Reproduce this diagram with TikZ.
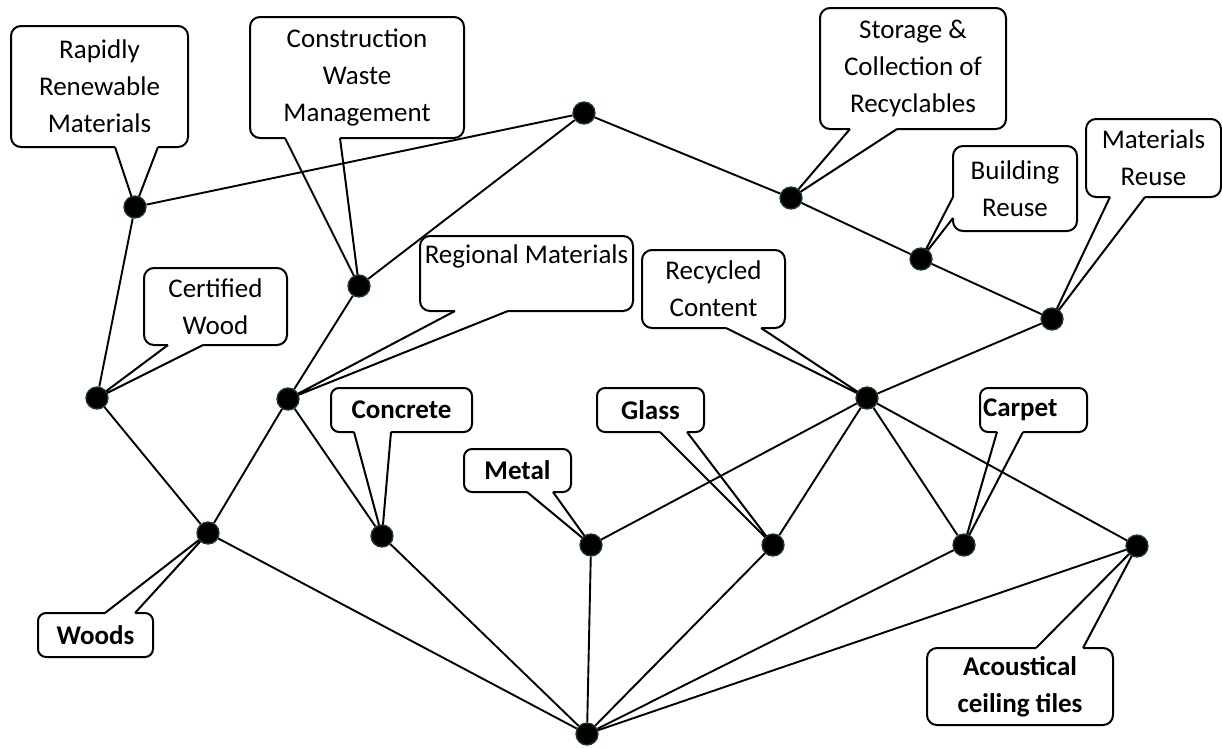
\documentclass[tikz,border=0pt]{standalone}
\usepackage{fontspec}
\setmainfont{Carlito}
\usetikzlibrary{calc}
\pgfdeclarelayer{bg}
\pgfsetlayers{bg,main}
\definecolor{dotgreen}{RGB}{25,65,25}
\newcommand\ptr[6]{%
  \coordinate (#6a) at (#1);
  \coordinate (#6b) at (#2);
  \fill[white] ($(#6a)+(#4,#5)$) -- ($(#6a)-(#4,#5)$) -- (#3.center) -- ($(#6b)-(#4,#5)$) -- ($(#6b)+(#4,#5)$) -- cycle;
  \draw[pline] (#6a) -- (#3.center) -- (#6b);}
\begin{document}
\begin{tikzpicture}[x=1pt,y=-1pt,
  cbox/.style={draw, line width=2pt, rounded corners=10pt, fill=white, inner sep=0pt, align=center, font=\fontsize{27}{37}\selectfont},
  bbox/.style={cbox, rounded corners=8pt, font=\fontsize{27}{37}\selectfont\bfseries},
  dot/.style={circle, fill=black, draw=dotgreen, line width=1.3pt, minimum size=22pt, inner sep=0pt},
  edge/.style={line width=1.9pt},
  pline/.style={line width=2pt, line join=round}]
\useasboundingbox (0,0) rectangle (1222,747);
% dots
\node[dot] (top) at (584,113) {};
\node[dot] (drrm) at (135,207) {};
\node[dot] (dcwm) at (359,286) {};
\node[dot] (dscr) at (791,198) {};
\node[dot] (dbr) at (921,259) {};
\node[dot] (dmr) at (1052,319) {};
\node[dot] (dcw) at (97,398) {};
\node[dot] (drm) at (288,399) {};
\node[dot] (drc) at (867,398) {};
\node[dot] (dwood) at (208,533) {};
\node[dot] (dcon) at (382,536) {};
\node[dot] (dmet) at (591,545) {};
\node[dot] (dgla) at (773,545) {};
\node[dot] (dcar) at (964,545) {};
\node[dot] (dact) at (1137,546) {};
\node[dot] (bot) at (587,734) {};
\begin{pgfonlayer}{bg}
% callout boxes
\node[cbox, minimum width=177, minimum height=121] (rrm) at (99.5,86.5) {Rapidly\\Renewable\\Materials};
\node[cbox, minimum width=214, minimum height=121] (cwm) at (357,77.5) {Construction\\Waste\\Management};
\node[cbox, minimum width=186, minimum height=121] (scr) at (913,68.5) {Storage \&\\Collection of\\Recyclables};
\node[cbox, minimum width=124, minimum height=85] (br) at (1015,188.5) {Building\\Reuse};
\node[cbox, minimum width=135, minimum height=78] (mr) at (1153.5,158) {Materials\\Reuse};
\node[cbox, minimum width=143, minimum height=77] (cw) at (215.5,306.5) {Certified\\Wood};
\node[cbox, minimum width=213, minimum height=75] (rm) at (526.5,273.5) {};
\node[font=\fontsize{27}{37}\selectfont, inner sep=0pt] (rmt) at (526.5,256) {Regional Materials};
\node[cbox, minimum width=143, minimum height=78] (rc) at (713.5,289) {Recycled\\Content};
\node[bbox, minimum width=141, minimum height=44] (con) at (401.5,410) {Concrete};
\node[bbox, minimum width=107, minimum height=43] (met) at (517.5,470.5) {Metal};
\node[bbox, minimum width=107, minimum height=44] (gla) at (650.5,410) {Glass};
\node[bbox, minimum width=107, minimum height=44] (car) at (1033.5,410) {\makebox[101pt][l]{Carpet}};
\node[bbox, minimum width=115, minimum height=44] (woo) at (95.5,635) {Woods};
\node[cbox, font=\fontsize{27}{37}\selectfont\bfseries, minimum width=186, minimum height=77] (act) at (1020,686.5) {Acoustical\\ceiling tiles};
% pointers
\ptr{115,147}{158,147}{drrm}{0}{-2}{prrm}
\ptr{285,138}{340,138}{dcwm}{0}{-2}{pcwm}
\ptr{850,129}{897,129}{dscr}{0}{-2}{pscr}
\ptr{953,197}{953,218}{dbr}{2}{0}{pbr}
\ptr{1110,197}{1145,197}{dmr}{0}{-2}{pmr}
\ptr{168,345}{203,345}{dcw}{0}{-2}{pcw}
\ptr{455,311}{508,311}{drm}{0}{-2}{prm}
\ptr{726,328}{761,328}{drc}{0}{-2}{prc}
\ptr{354,432}{391,432}{dcon}{0}{-2}{pcon}
\ptr{527,492}{553,492}{dmet}{0}{-2}{pmet}
\ptr{660,432}{687,432}{dgla}{0}{-2}{pgla}
\ptr{997,432}{1023,432}{dcar}{0}{-2}{pcar}
\ptr{105,613}{135,613}{dwood}{0}{2}{pwoo}
\ptr{1036,648}{1083,648}{dact}{0}{2}{pact}
% edges
\draw[edge] (top) -- (drrm);
\draw[edge] (top) -- (dcwm);
\draw[edge] (top) -- (dscr);
\draw[edge] (dscr) -- (dbr);
\draw[edge] (dbr) -- (dmr);
\draw[edge] (dmr) -- (drc);
\draw[edge] (drrm) -- (dcw);
\draw[edge] (dcwm) -- (drm);
\draw[edge] (dcw) -- (dwood);
\draw[edge] (drm) -- (dwood);
\draw[edge] (drm) -- (dcon);
\draw[edge] (drc) -- (dmet);
\draw[edge] (drc) -- (dgla);
\draw[edge] (drc) -- (dcar);
\draw[edge] (drc) -- (dact);
\draw[edge] (dwood) -- (bot);
\draw[edge] (dcon) -- (bot);
\draw[edge] (dmet) -- (bot);
\draw[edge] (dgla) -- (bot);
\draw[edge] (dcar) -- (bot);
\draw[edge] (dact) -- (bot);
\end{pgfonlayer}
\end{tikzpicture}
\end{document}
